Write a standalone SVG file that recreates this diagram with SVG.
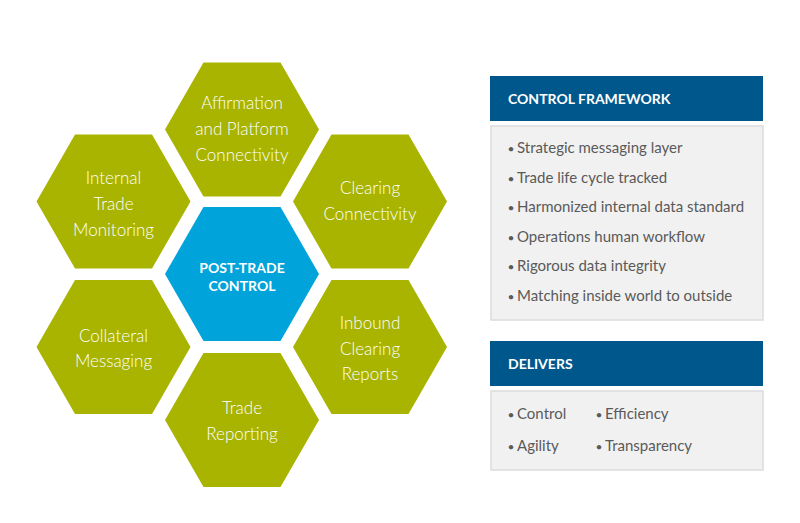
<svg xmlns="http://www.w3.org/2000/svg" width="800" height="523" viewBox="0 0 800 523">
<defs>
<polygon id="hex" points="-77,0 -38.5,-67 38.5,-67 77,0 38.5,67 -38.5,67"/>
</defs>
<style>
.g{fill:#A8B400}
.c{fill:#00A3DA}
.ht{font-family:Lato,"Open Sans","Liberation Sans",sans-serif;font-weight:300;font-size:17px;fill:#ffffff;text-anchor:middle}
.ct{font-family:Lato,"Open Sans","Liberation Sans",sans-serif;font-weight:700;font-size:14px;fill:#ffffff;text-anchor:middle}
.hd{fill:#00578C}
.bx{fill:#F1F1F1;stroke:#DCDCDC;stroke-width:1.5}
.hdt{font-family:Lato,"Open Sans","Liberation Sans",sans-serif;font-weight:700;font-size:14px;fill:#ffffff}
.bt{font-family:Lato,"Open Sans","Liberation Sans",sans-serif;font-size:15px;fill:#5A5A5A}
.b{font-size:12px}
</style>
<rect width="800" height="523" fill="#ffffff"/>
<g id="connectors"/>
<g id="affirmation" transform="translate(242,129.5)">
<use href="#hex" class="g"/>
<text class="ht" y="-21">Affirmation</text>
<text class="ht" y="5">and Platform</text>
<text class="ht" y="31">Connectivity</text>
</g>
<g id="internal-trade" transform="translate(113.5,201.5)">
<use href="#hex" class="g"/>
<text class="ht" y="-18">Internal</text>
<text class="ht" y="8">Trade</text>
<text class="ht" y="34">Monitoring</text>
</g>
<g id="clearing" transform="translate(370,201.5)">
<use href="#hex" class="g"/>
<text class="ht" y="-8">Clearing</text>
<text class="ht" y="18">Connectivity</text>
</g>
<g id="post-trade" transform="translate(242,274)">
<use href="#hex" class="c"/>
<text class="ct" y="-1">POST-TRADE</text>
<text class="ct" y="17">CONTROL</text>
</g>
<g id="collateral" transform="translate(113.5,347)">
<use href="#hex" class="g"/>
<text class="ht" y="-5">Collateral</text>
<text class="ht" y="20">Messaging</text>
</g>
<g id="inbound" transform="translate(370,347)">
<use href="#hex" class="g"/>
<text class="ht" y="-18">Inbound</text>
<text class="ht" y="8">Clearing</text>
<text class="ht" y="33">Reports</text>
</g>
<g id="trade-reporting" transform="translate(242,420)">
<use href="#hex" class="g"/>
<text class="ht" y="-6">Trade</text>
<text class="ht" y="20">Reporting</text>
</g>
<g id="control-framework">
<rect class="hd" x="490" y="76" width="273" height="45"/>
<text class="hdt" x="508" y="104">CONTROL FRAMEWORK</text>
<rect class="bx" x="491" y="126" width="272" height="194"/>
<text class="bt" y="153"><tspan class="b" x="507.5">•</tspan><tspan x="517">Strategic messaging layer</tspan></text>
<text class="bt" y="182.5"><tspan class="b" x="507.5">•</tspan><tspan x="517">Trade life cycle tracked</tspan></text>
<text class="bt" y="212"><tspan class="b" x="507.5">•</tspan><tspan x="517">Harmonized internal data standard</tspan></text>
<text class="bt" y="241.5"><tspan class="b" x="507.5">•</tspan><tspan x="517">Operations human workflow</tspan></text>
<text class="bt" y="271"><tspan class="b" x="507.5">•</tspan><tspan x="517">Rigorous data integrity</tspan></text>
<text class="bt" y="300.5"><tspan class="b" x="507.5">•</tspan><tspan x="517">Matching inside world to outside</tspan></text>
</g>
<g id="delivers">
<rect class="hd" x="490" y="341" width="273" height="45"/>
<text class="hdt" x="508" y="369">DELIVERS</text>
<rect class="bx" x="491" y="391" width="272" height="79"/>
<text class="bt" y="419"><tspan class="b" x="507.5">•</tspan><tspan x="517">Control</tspan></text>
<text class="bt" y="419"><tspan class="b" x="595.5">•</tspan><tspan x="605">Efficiency</tspan></text>
<text class="bt" y="451"><tspan class="b" x="507.5">•</tspan><tspan x="517">Agility</tspan></text>
<text class="bt" y="451"><tspan class="b" x="595.5">•</tspan><tspan x="605">Transparency</tspan></text>
</g>
</svg>
